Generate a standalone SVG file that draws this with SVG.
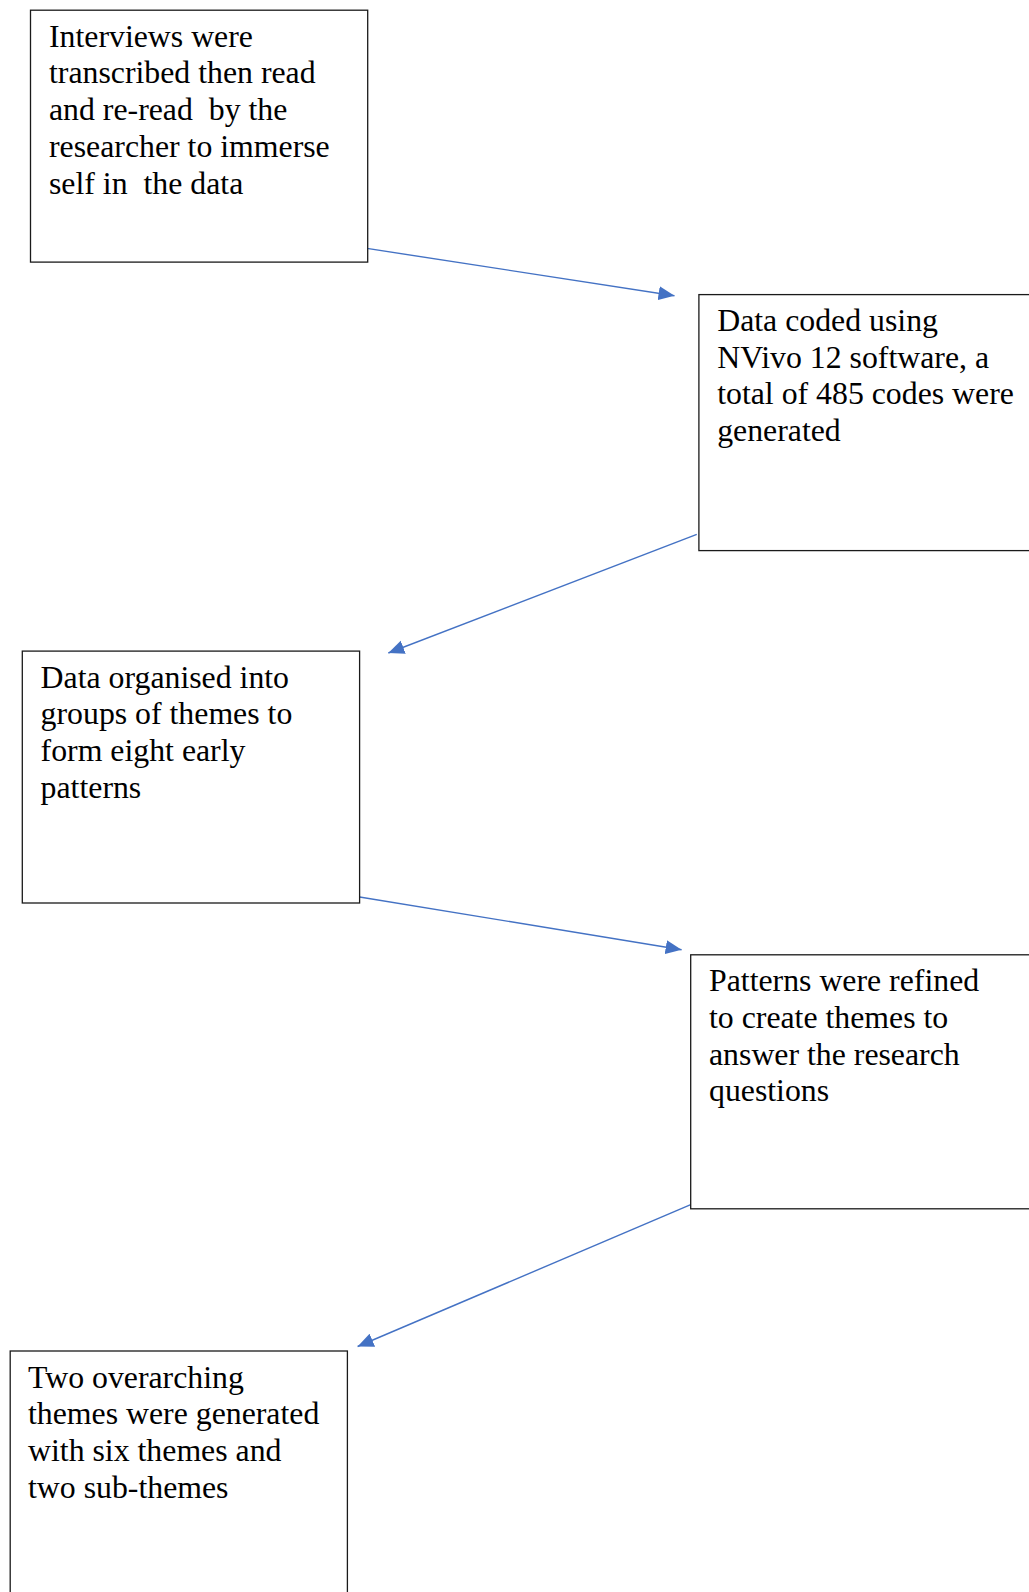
<svg xmlns="http://www.w3.org/2000/svg" width="1029" height="1592" viewBox="0 0 1029 1592">
<style>
.box{fill:#fff;stroke:#1a1a1a;stroke-width:1.3}
.t{font-family:"Liberation Serif","Times New Roman",serif;font-size:31.8px;fill:#000;white-space:pre}
.c{stroke:#4472C4;stroke-width:1.4;fill:none;marker-end:url(#ah)}
</style>
<defs>
<marker id="ah" markerUnits="userSpaceOnUse" markerWidth="18" markerHeight="15" refX="16" refY="7" orient="auto">
<path d="M0,0 L16,7 L0,14 z" fill="#4472C4"/>
</marker>
</defs>
<rect width="1029" height="1592" fill="#fff"/>
<g id="connectors">
<line class="c" x1="363.7" y1="247.9" x2="674.5" y2="295.7"/>
<line class="c" x1="696.8" y1="534.3" x2="388.3" y2="653"/>
<line class="c" x1="359.6" y1="897" x2="681.6" y2="949.8"/>
<line class="c" x1="690.7" y1="1204.7" x2="357.6" y2="1346.5"/>
</g>
<g id="n1">
<rect class="box" x="30.5" y="10.2" width="337.2" height="251.9"/>
<text class="t" xml:space="preserve"><tspan x="49" y="46.7">Interviews were</tspan><tspan x="49" y="83.4">transcribed then read</tspan><tspan x="49" y="120.1">and re-read  by the</tspan><tspan x="49" y="156.8">researcher to immerse</tspan><tspan x="49" y="193.5">self in  the data</tspan></text>
</g>
<g id="n2">
<rect class="box" x="698.9" y="294.6" width="340" height="256"/>
<text class="t"><tspan x="717.2" y="331">Data coded using</tspan><tspan x="717.2" y="367.7">NVivo 12 software, a</tspan><tspan x="717.2" y="404.4">total of 485 codes were</tspan><tspan x="717.2" y="441.1">generated</tspan></text>
</g>
<g id="n3">
<rect class="box" x="22.3" y="651.1" width="337.3" height="251.9"/>
<text class="t"><tspan x="40.6" y="687.6">Data organised into</tspan><tspan x="40.6" y="724.3">groups of themes to</tspan><tspan x="40.6" y="761">form eight early</tspan><tspan x="40.6" y="797.7">patterns</tspan></text>
</g>
<g id="n4">
<rect class="box" x="690.7" y="954.8" width="350" height="254"/>
<text class="t"><tspan x="709" y="991.3">Patterns were refined</tspan><tspan x="709" y="1028">to create themes to</tspan><tspan x="709" y="1064.7">answer the research</tspan><tspan x="709" y="1101.4">questions</tspan></text>
</g>
<g id="n5">
<rect class="box" x="10.2" y="1351" width="337.2" height="260"/>
<text class="t"><tspan x="28" y="1387.5">Two overarching</tspan><tspan x="28" y="1424.2">themes were generated</tspan><tspan x="28" y="1460.9">with six themes and</tspan><tspan x="28" y="1497.6">two sub-themes</tspan></text>
</g>
</svg>
